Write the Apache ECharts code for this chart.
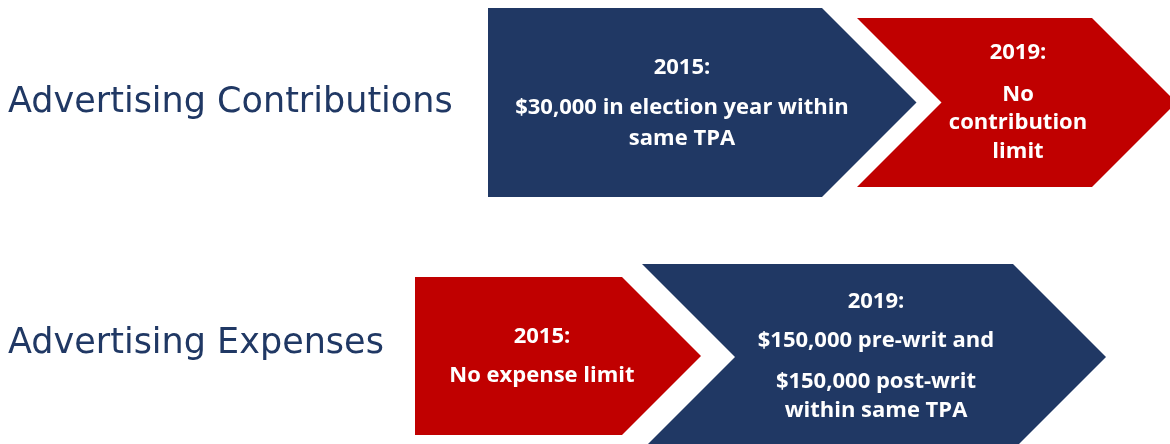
<!DOCTYPE html>
<html>
<head>
<meta charset="utf-8">
<script src="https://cdn.jsdelivr.net/npm/echarts@6/dist/echarts.min.js"></script>
<style>
  html, body { margin: 0; padding: 0; background: #fff; }
  #chart { width: 1170px; height: 444px; }
</style>
</head>
<body>
<div id="chart"></div>
<script>
// row labels and the two steps on each row
const rowLabels = ['Advertising Contributions', 'Advertising Expenses']
const stepYears = [['2015:', '2019:'], ['2015:', '2019:']]
const stepLines = [
  [['$30,000 in election year within', 'same TPA'], ['No', 'contribution', 'limit']],
  [['No expense limit'], ['$150,000 pre-writ and', '$150,000 post-writ', 'within same TPA']]
]
const stepColors = [['#203864', '#C00000'], ['#C00000', '#203864']]

// layout (pixel space of the hidden axes)
const rowLabelY = [103, 344]
const shapes = [
  [{ x0: 488, x1: 822, y0: 8, y1: 197, notch: false, cx: 682, ty: [68, 108, 139] },
   { x0: 857, x1: 1092, y0: 18, y1: 187, notch: true, cx: 1018, ty: [53, 95, 123, 152] }],
  [{ x0: 415, x1: 622, y0: 277, y1: 435, notch: false, cx: 542, ty: [337, 376] },
   { x0: 642, x1: 1013, y0: 264, y1: 450, notch: true, cx: 876, ty: [302, 341, 382, 411] }]
]

const chart = echarts.init(document.getElementById('chart'))

const items = []
rowLabels.forEach((r, ri) => {
  stepYears[ri].forEach((y, si) => items.push([ri, si]))
})

function renderStep(params, api) {
  const ri = api.value(0)
  const si = api.value(1)
  const s = shapes[ri][si]
  const half = (s.y1 - s.y0) / 2
  const mid = s.y0 + half
  const pts = [[s.x0, s.y0], [s.x1, s.y0], [s.x1 + half, mid], [s.x1, s.y1], [s.x0, s.y1]]
  if (s.notch) pts.push([s.x0 + half, mid])
  const children = [{
    type: 'polygon',
    shape: { points: pts.map(p => api.coord(p)) },
    style: { fill: stepColors[ri][si] }
  }]
  const lines = [stepYears[ri][si]].concat(stepLines[ri][si])
  lines.forEach((t, i) => {
    const p = api.coord([s.cx, s.ty[i]])
    children.push({
      type: 'text',
      style: {
        text: t, x: p[0], y: p[1],
        fill: '#fff', font: 'bold 22px "Open Sans"',
        align: 'center', verticalAlign: 'middle'
      }
    })
  })
  if (si === 0) {
    const lp = api.coord([8, rowLabelY[ri]])
    children.push({
      type: 'text',
      style: {
        text: rowLabels[ri], x: lp[0], y: lp[1],
        fill: '#203864', font: '35px "DejaVu Sans"',
        align: 'left', verticalAlign: 'middle'
      }
    })
  }
  return { type: 'group', children }
}

chart.setOption({
  animation: false,
  grid: { left: 0, right: 0, top: 0, bottom: 0 },
  xAxis: { type: 'value', min: 0, max: 1170, show: false },
  yAxis: { type: 'value', min: 0, max: 444, inverse: true, show: false },
  series: [{
    type: 'custom',
    renderItem: renderStep,
    clip: false,
    data: items
  }]
})
</script>
</body>
</html>
